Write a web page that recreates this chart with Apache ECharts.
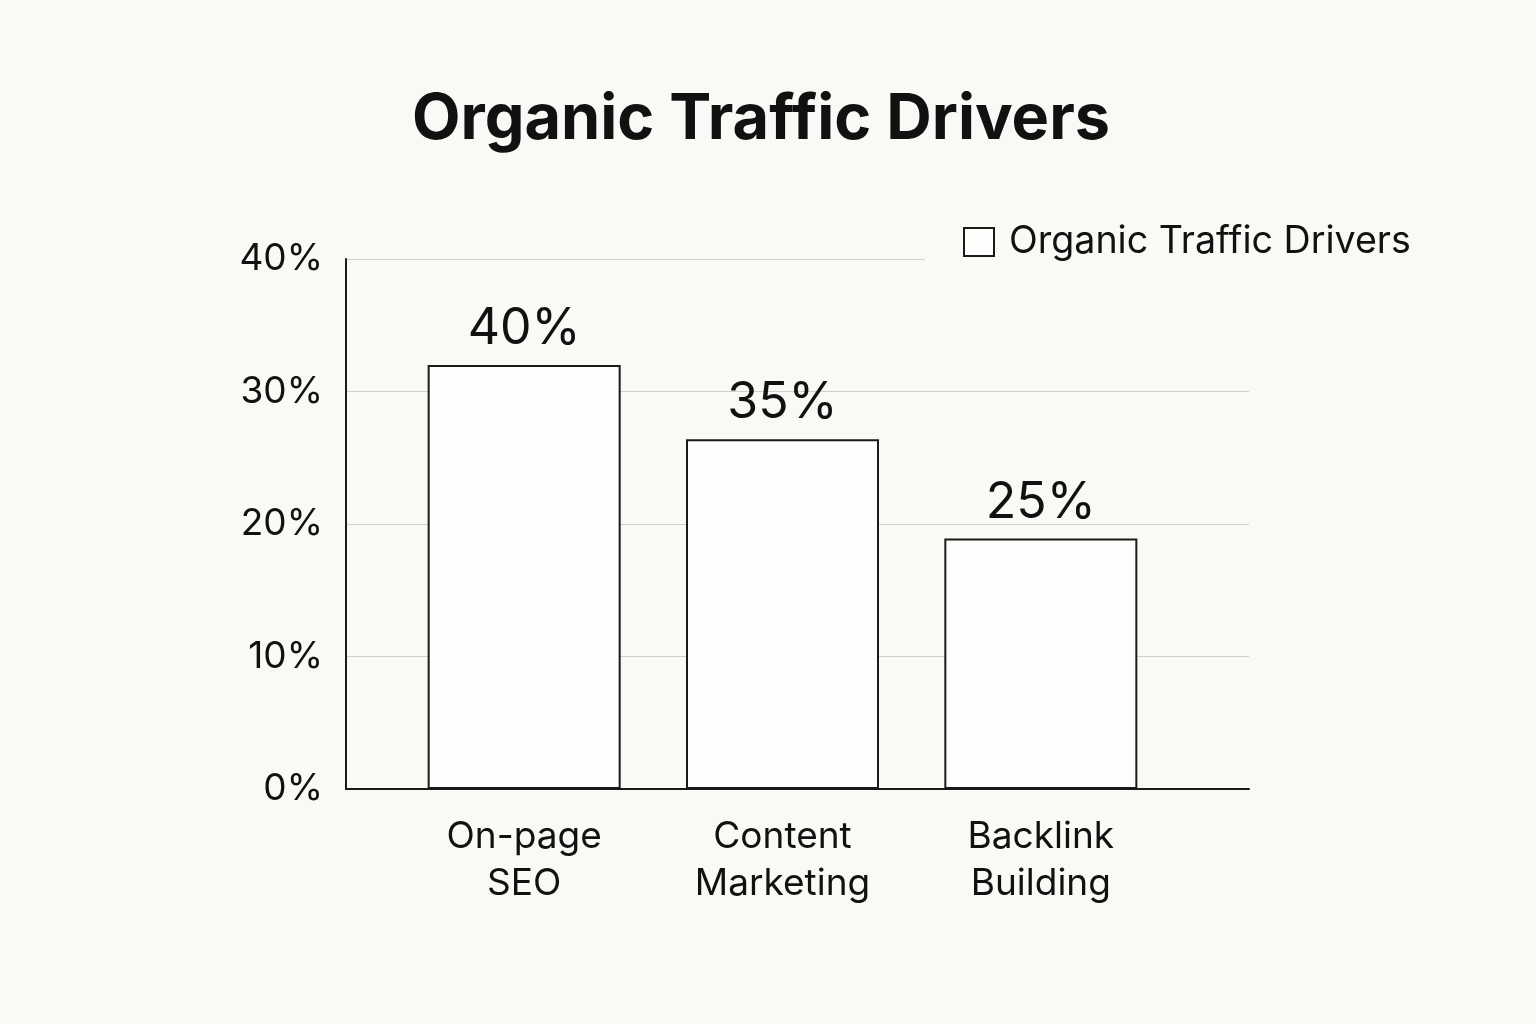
<!DOCTYPE html>
<html>
<head>
<meta charset="utf-8">
<script src="https://cdn.jsdelivr.net/npm/echarts@6/dist/echarts.min.js"></script>
<style>
  html, body { margin: 0; padding: 0; background: #faf9f6; }
  #chart { width: 1536px; height: 1024px; }
</style>
</head>
<body>
<div id="chart"></div>
<script>
const titleText = 'Organic Traffic Drivers';
const seriesName = 'Organic Traffic Drivers';
const categories = ['On-page\nSEO', 'Content\nMarketing', 'Backlink\nBuilding'];
const barValues = [32.0, 26.4, 18.9];
const barLabels = ['40%', '35%', '25%'];
const yMin = 0, yMax = 40, yInterval = 10;

const FONT = 'Inter';
const TEXT = '#111111';
const BG = '#faf9f6';

const chart = echarts.init(document.getElementById('chart'));
chart.setOption({
  backgroundColor: BG,
  animation: false,
  title: {
    text: titleText,
    left: 412,
    top: 89,
    padding: 0,
    textStyle: { fontFamily: FONT, fontWeight: 'bold', fontSize: 63, color: TEXT }
  },
  legend: {
    data: [seriesName],
    left: 925,
    top: 215,
    padding: [8, 30, 10, 38],
    backgroundColor: BG,
    itemWidth: 30,
    itemHeight: 28,
    icon: 'rect',
    textStyle: { fontFamily: FONT, fontSize: 37.6, color: TEXT, padding: [0, 0, 0, 10] }
  },
  grid: [
    { left: 346, right: 287, top: 259, bottom: 235 },
    { left: 395, right: 366, top: 259, bottom: 235 }
  ],
  xAxis: [
    {
      type: 'value', gridIndex: 0, min: 0, max: 1,
      axisLine: { show: true, onZero: false, lineStyle: { color: '#1a1a1a', width: 2 } },
      axisTick: { show: false }, axisLabel: { show: false }, splitLine: { show: false }
    },
    {
      type: 'category', gridIndex: 1, data: categories,
      axisLine: { show: false }, axisTick: { show: false },
      axisLabel: { fontFamily: FONT, fontSize: 37, color: TEXT, lineHeight: 47, margin: 24 }
    }
  ],
  yAxis: [
    {
      type: 'value', gridIndex: 0, min: yMin, max: yMax, interval: yInterval,
      axisLine: { show: true, lineStyle: { color: '#1a1a1a', width: 2 } },
      axisTick: { show: false },
      axisLabel: { formatter: '{value}%', fontFamily: FONT, fontSize: 37, color: TEXT, margin: 23 },
      splitLine: { show: true, lineStyle: { color: '#cfcfcf', width: 1 } }
    },
    {
      type: 'value', gridIndex: 1, min: yMin, max: yMax, interval: yInterval, show: false
    }
  ],
  series: [
    {
      name: seriesName,
      type: 'bar',
      xAxisIndex: 1,
      yAxisIndex: 1,
      data: barValues,
      barWidth: 193,
      itemStyle: { color: '#fefefd', borderColor: '#1a1a1a', borderWidth: 2 },
      label: {
        show: true,
        position: 'top',
        distance: 11,
        fontFamily: FONT,
        fontSize: 50,
        color: TEXT,
        formatter: function (p) { return barLabels[p.dataIndex]; }
      }
    }
  ]
});
</script>
</body>
</html>
